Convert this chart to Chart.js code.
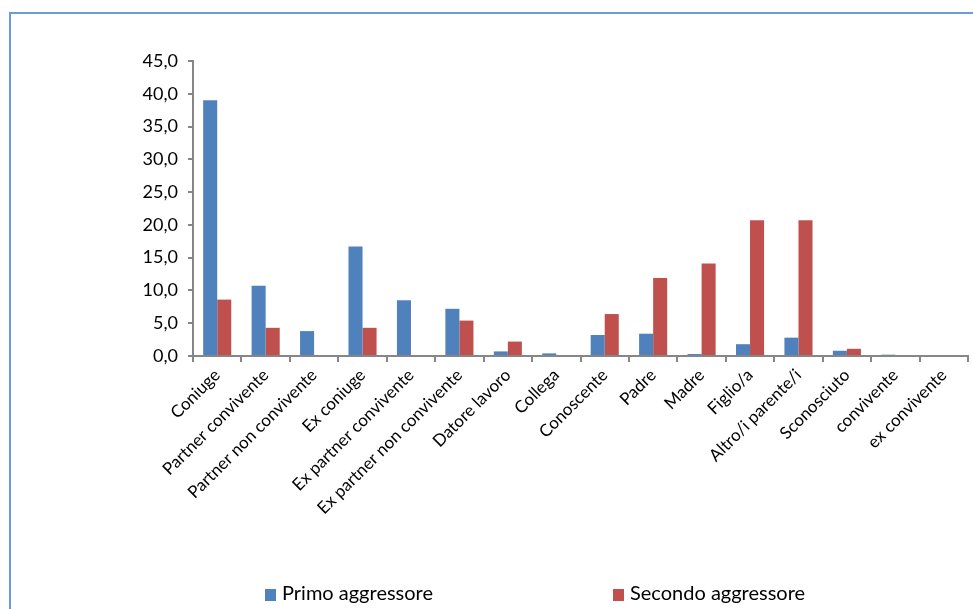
<!DOCTYPE html>
<html>
<head>
<meta charset="utf-8">
<script src="https://cdn.jsdelivr.net/npm/chart.js@4"></script>
<style>
  body { margin: 0; background: #fff; font-family: Lato, sans-serif; }
  #wrap { position: relative; width: 973px; height: 609px; overflow: hidden; }
  #frame { position: absolute; left: 9px; top: 12px; width: 1100px; height: 700px;
           border: 2px solid #6d9bd5; box-sizing: border-box; pointer-events: none; }
  #chart { position: absolute; left: 0; top: 0; }
  .leg { position: absolute; top: 580px; font-size: 20px; line-height: 24px; color: #000; white-space: nowrap; }
  .leg i { display: inline-block; width: 11px; height: 12px; margin-right: 6px; vertical-align: -1px; }
</style>
</head>
<body>
<div id="wrap">
  <canvas id="chart" width="973" height="609"></canvas>
  <div id="frame"></div>
</div>
<script>
// categories and values (percent)
const categories = [
  "Coniuge", "Partner convivente", "Partner non convivente", "Ex coniuge",
  "Ex partner convivente", "Ex partner non convivente", "Datore lavoro", "Collega",
  "Conoscente", "Padre", "Madre", "Figlio/a", "Altro/i parente/i",
  "Sconosciuto", "convivente", "ex convivente"
];
const primoAggressore = [39.0, 10.7, 3.8, 16.7, 8.5, 7.2, 0.7, 0.4, 3.2, 3.4, 0.3, 1.8, 2.8, 0.8, 0.2, 0.0];
const secondoAggressore = [8.6, 4.3, 0.0, 4.3, 0.0, 5.4, 2.2, 0.0, 6.4, 11.9, 14.1, 20.7, 20.7, 1.1, 0.0, 0.0];
const seriesNames = ["Primo aggressore", "Secondo aggressore"];
const seriesColors = ["#4f81bd", "#c0504d"];
const yTickLabels = ["0,0", "5,0", "10,0", "15,0", "20,0", "25,0", "30,0", "35,0", "40,0", "45,0"];

const axisGray = "#868686";
const font = { family: "Lato", size: 17 };

const ctx = document.getElementById("chart").getContext("2d");
const chart = new Chart(ctx, {
  type: "bar",
  data: {
    labels: categories,
    datasets: [
      { label: seriesNames[0], data: primoAggressore, backgroundColor: seriesColors[0] },
      { label: seriesNames[1], data: secondoAggressore, backgroundColor: seriesColors[1] }
    ]
  },
  options: {
    responsive: false,
    animation: false,
    devicePixelRatio: 1,
    layout: { padding: { top: 61, right: 5, bottom: 0, left: 0 } },
    datasets: { bar: { categoryPercentage: 0.58, barPercentage: 1.0 } },
    scales: {
      x: {
        afterFit: s => { s.height = 609 - 356; },
        border: { color: axisGray, width: 2 },
        grid: { offset: true, drawOnChartArea: false, color: axisGray, lineWidth: 2, tickLength: 6 },
        ticks: { autoSkip: false, minRotation: 45, maxRotation: 45, padding: 3, color: "#000", font: font }
      },
      y: {
        min: 0,
        max: 45,
        afterFit: s => { s.width = 193; },
        border: { color: axisGray, width: 2 },
        grid: { drawOnChartArea: false, color: axisGray, lineWidth: 2, tickLength: 5 },
        ticks: {
          stepSize: 5,
          padding: 10,
          color: "#000",
          font: { family: "Lato", size: 18 },
          callback: (v, i) => yTickLabels[i]
        }
      }
    },
    plugins: {
      legend: { display: false },
      tooltip: { enabled: false }
    }
  }
});

// legend below the plot, spread out as two separate entries
const legendLeft = [265, 613];
chart.data.datasets.forEach((ds, i) => {
  const el = document.createElement("div");
  el.className = "leg";
  el.style.left = legendLeft[i] + "px";
  el.innerHTML = '<i style="background:' + ds.backgroundColor + '"></i>' + ds.label;
  document.getElementById("wrap").appendChild(el);
});
</script>
</body>
</html>
